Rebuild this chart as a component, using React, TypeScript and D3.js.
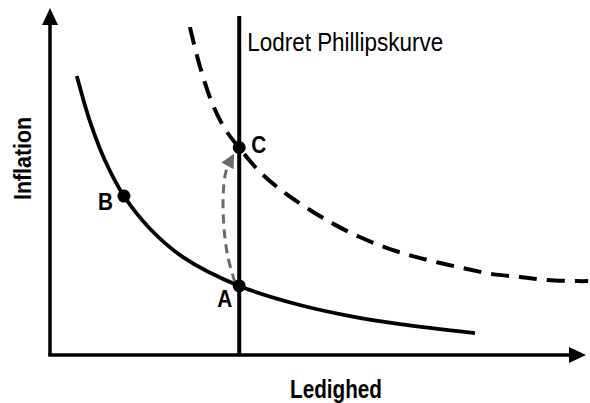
import * as d3 from "d3";

// curves, in abstract units (0-100 on both axes)
const shortRunCurve: [number, number][] = [
  [5.0, 80.4], [7.5, 67.1], [10.3, 55.9], [13.8, 45.8], [18.7, 36.3],
  [24.8, 28.2], [35.3, 19.9], [46.6, 14.4], [56.0, 11.2], [65.3, 8.9],
  [79.3, 6.3],
];

const shiftedCurve: [number, number][] = [
  [26.1, 94.5], [28.0, 83.0], [30.4, 72.0], [32.8, 64.8], [35.3, 59.7],
  [39.2, 52.7], [43.8, 46.7], [48.5, 41.8], [53.2, 37.5], [57.8, 34.0],
  [62.9, 30.8], [67.7, 28.5], [72.8, 26.5], [77.8, 24.8], [82.6, 23.3],
  [87.7, 22.5], [92.7, 21.6], [98.3, 21.3], [100.4, 21.3],
];

const movePath: [number, number][] = [
  [34.5, 21.0], [33.2, 28.2], [32.5, 36.0], [32.3, 45.5], [32.8, 52.7], [34.1, 57.3],
];

const naturalRate = 35.3;
const verticalTop = 97.7;

const pointNames = ["A", "B", "C"];
const pointX = [35.3, 13.8, 35.3];
const pointY = [19.9, 45.8, 59.8];

const xTitle = "Ledighed";
const yTitle = "Inflation";
const verticalLabel = "Lodret Phillipskurve";

const W = 590;
const H = 403;

const x = d3.scaleLinear().domain([0, 100]).range([50, 586]);
const y = d3.scaleLinear().domain([0, 100]).range([355, 8]);

const line = d3
  .line<[number, number]>()
  .x((d) => x(d[0]))
  .y((d) => y(d[1]))
  .curve(d3.curveCatmullRom.alpha(0.5));

// label placement relative to each point (pixels)
const labelPos: Record<string, { dx: number; dy: number; anchor: string; len: number }> = {
  A: { dx: -7, dy: 21, anchor: "end", len: 15 },
  B: { dx: -11, dy: 14, anchor: "end", len: 15 },
  C: { dx: 12, dy: 6, anchor: "start", len: 15 },
};

export default function App() {
  const x0 = x(0);
  const y0 = y(0);
  const xEnd = x(100);
  const yEnd = y(100);
  const head = 17;
  const half = 8;

  const fontFam = "'Liberation Sans', Arial, sans-serif";

  return (
    <svg
      width={W}
      height={H}
      style={{ position: "absolute", left: 0, top: 0, background: "#fff" }}
    >
      <defs>
        <marker
          id="grey-head"
          viewBox="0 0 10 10"
          refX="8"
          refY="5"
          markerWidth="5"
          markerHeight="4.6"
          markerUnits="strokeWidth"
          orient="auto"
        >
          <path d="M0,0 L10,5 L0,10 z" fill="#6b6b6b" />
        </marker>
      </defs>

      {/* axes */}
      <line x1={x0} y1={y0} x2={x0} y2={yEnd + head - 1} stroke="#000" strokeWidth={3.5} />
      <polygon
        points={`${x0},${yEnd} ${x0 - half},${yEnd + head} ${x0 + half},${yEnd + head}`}
        fill="#000"
      />
      <line x1={x0 - 1.75} y1={y0} x2={xEnd - head + 1} y2={y0} stroke="#000" strokeWidth={3.5} />
      <polygon
        points={`${xEnd},${y0} ${xEnd - head},${y0 - half} ${xEnd - head},${y0 + half}`}
        fill="#000"
      />

      {/* vertical long-run curve */}
      <line
        x1={x(naturalRate)}
        y1={y0}
        x2={x(naturalRate)}
        y2={y(verticalTop)}
        stroke="#000"
        strokeWidth={4}
      />

      <path d={line(shortRunCurve) ?? ""} fill="none" stroke="#000" strokeWidth={3.8} />
      <path
        d={line(shiftedCurve) ?? ""}
        fill="none"
        stroke="#000"
        strokeWidth={4}
        strokeDasharray="18,10"
      />

      <path
        d={line(movePath) ?? ""}
        fill="none"
        stroke="#6b6b6b"
        strokeWidth={3}
        strokeDasharray="9,6"
        markerEnd="url(#grey-head)"
      />

      {pointNames.map((n, i) => (
        <circle key={n} cx={x(pointX[i])} cy={y(pointY[i])} r={6.5} fill="#000" />
      ))}

      {pointNames.map((n, i) => {
        const p = labelPos[n];
        return (
          <text
            key={"l" + n}
            x={x(pointX[i]) + p.dx}
            y={y(pointY[i]) + p.dy}
            textAnchor={p.anchor}
            fontFamily={fontFam}
            fontWeight="bold"
            fontSize={23}
            textLength={p.len}
            lengthAdjust="spacingAndGlyphs"
          >
            {n}
          </text>
        );
      })}

      <text
        x={x(naturalRate) + 8}
        y={51}
        fontFamily={fontFam}
        fontSize={26}
        textLength={196}
        lengthAdjust="spacingAndGlyphs"
      >
        {verticalLabel}
      </text>

      <text
        x={290}
        y={398}
        fontFamily={fontFam}
        fontWeight="bold"
        fontSize={25}
        textLength={92}
        lengthAdjust="spacingAndGlyphs"
      >
        {xTitle}
      </text>

      <text
        transform="translate(31,200) rotate(-90)"
        fontFamily={fontFam}
        fontWeight="bold"
        fontSize={23}
        textLength={83}
        lengthAdjust="spacingAndGlyphs"
      >
        {yTitle}
      </text>
    </svg>
  );
}
